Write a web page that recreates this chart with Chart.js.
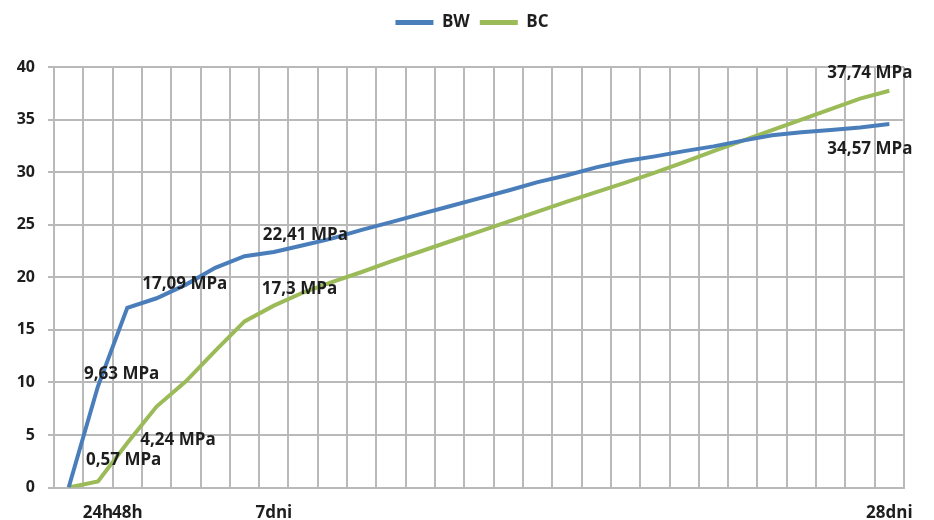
<!DOCTYPE html>
<html>
<head>
<meta charset="utf-8">
<script src="https://cdn.jsdelivr.net/npm/chart.js@4/dist/chart.umd.min.js"></script>
<style>
  html, body { margin: 0; padding: 0; background: #fff; }
  #wrap { width: 934px; height: 520px; }
</style>
</head>
<body>
<div id="wrap"><canvas id="c" width="934" height="520"></canvas></div>
<script>
// Categories (0 = start, then days up to 28)
const dayLabels = ['', '24h', '48h', '', '', '', '', '7dni', '', '', '', '', '', '', '', '', '', '', '', '', '', '', '', '', '', '', '', '', '28dni'];

// Series values (MPa)
const bwValues = [0, 9.63, 17.09, 18.0, 19.3, 20.9, 22.0, 22.41, 23.05, 23.7, 24.5, 25.25, 26.0, 26.75, 27.5, 28.25, 29.05, 29.7, 30.45, 31.05, 31.5, 32.0, 32.45, 33.0, 33.5, 33.8, 34.0, 34.25, 34.57];
const bcValues = [0, 0.57, 4.24, 7.7, 10.1, 13.0, 15.8, 17.3, 18.55, 19.55, 20.5, 21.5, 22.45, 23.4, 24.35, 25.3, 26.25, 27.2, 28.1, 29.0, 29.95, 30.95, 32.0, 33.0, 34.0, 35.0, 36.0, 37.0, 37.74];

const seriesNames = ['BW', 'BC'];
const yTicks = [0, 5, 10, 15, 20, 25, 30, 35, 40];

// Indices of points that carry a value label, per series
const labelledBW = [1, 2, 7, 28];
const labelledBC = [1, 2, 7, 28];

const BLUE = '#4a7ebb';
const GREEN = '#9bbb59';
const GRID = 'rgb(185,185,185)';
const TXT = '#1e1e1e';
const FONT_FAMILY = '"Open Sans", "Liberation Sans", sans-serif';

// label placement relative to the point (styling, not data)
const labelOffsets = {
  '0-1': [-14, -12], '0-2': [15, -24], '0-7': [-11, -17], '0-28': [-62, 25],
  '1-1': [-12, -21], '1-2': [13, -3], '1-7': [-12, -16], '1-28': [-62, -18]
};

const valueLabels = {
  id: 'valueLabels',
  afterDatasetsDraw(chart) {
    const ctx = chart.ctx;
    ctx.save();
    ctx.font = 'bold 17px ' + FONT_FAMILY;
    ctx.fillStyle = TXT;
    ctx.textAlign = 'left';
    ctx.textBaseline = 'middle';
    [labelledBW, labelledBC].forEach((list, ds) => {
      const meta = chart.getDatasetMeta(ds);
      const values = chart.data.datasets[ds].data;
      list.forEach(i => {
        const pt = meta.data[i];
        const off = labelOffsets[ds + '-' + i] || [0, -14];
        const txt = String(values[i]).replace('.', ',') + ' MPa';
        ctx.fillText(txt, pt.x + off[0], pt.y + off[1]);
      });
    });
    ctx.restore();
  }
};

const legendSpacer = {
  id: 'legendSpacer',
  beforeLayout(chart) {
    const lg = chart.legend;
    if (lg && !lg._spaced) {
      const orig = lg.fit;
      lg.fit = function () { orig.call(this); this.height += 26; };
      lg._spaced = true;
    }
  },
  afterLayout(chart) {
    const lg = chart.legend;
    if (lg) { lg.left += 20; lg.right += 20; }
  }
};

new Chart(document.getElementById('c'), {
  type: 'line',
  data: {
    labels: dayLabels,
    datasets: [
      { label: seriesNames[0], data: bwValues, borderColor: BLUE, backgroundColor: BLUE, borderWidth: 4, pointRadius: 0, tension: 0 },
      { label: seriesNames[1], data: bcValues, borderColor: GREEN, backgroundColor: GREEN, borderWidth: 4, pointRadius: 0, tension: 0 }
    ]
  },
  options: {
    responsive: false,
    devicePixelRatio: 1,
    animation: false,
    layout: { padding: { left: 0, right: 30, top: 4, bottom: 0 } },
    plugins: {
      tooltip: { enabled: false },
      legend: {
        position: 'top',
        align: 'center',
        labels: {
          boxWidth: 38,
          boxHeight: 5,
          padding: 10,
          color: TXT,
          font: { family: FONT_FAMILY, size: 17, weight: 'bold' },
          generateLabels(chart) {
            const items = Chart.defaults.plugins.legend.labels.generateLabels(chart);
            items.forEach(it => { it.lineWidth = 0; });
            return items;
          }
        }
      }
    },
    scales: {
      x: {
        type: 'category',
        offset: true,
        grid: { offset: true, color: GRID, lineWidth: 2, drawTicks: false },
        border: { display: true, color: GRID, width: 2 },
        ticks: {
          autoSkip: false, maxRotation: 0, minRotation: 0, padding: 15,
          color: TXT, font: { family: FONT_FAMILY, size: 17, weight: 'bold' }
        },
        afterFit(scale) { scale.height = 32.5; }
      },
      y: {
        min: 0, max: 40,
        afterBuildTicks(scale) { scale.ticks = yTicks.map(v => ({ value: v })); },
        grid: { color: GRID, lineWidth: 2, drawTicks: true, tickLength: 6, tickColor: GRID },
        border: { display: true, color: GRID, width: 2 },
        ticks: {
          padding: 13,
          color: TXT, font: { family: FONT_FAMILY, size: 16, weight: 'bold' }
        },
        afterFit(scale) { scale.width = 54; }
      }
    }
  },
  plugins: [legendSpacer, valueLabels]
});
</script>
</body>
</html>
